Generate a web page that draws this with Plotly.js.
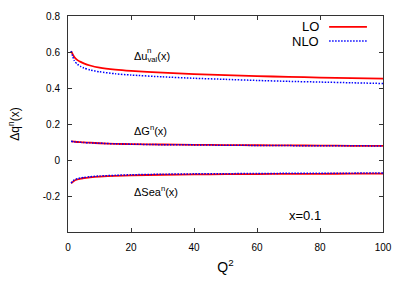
<!DOCTYPE html>
<html>
<head>
<meta charset="utf-8">
<script src="https://cdn.plot.ly/plotly-3.0.1.min.js"></script>
<style>html,body{margin:0;padding:0;background:#fff;}#chart{width:415px;height:291px;}</style>
</head>
<body>
<div id="chart"></div>
<script>
// Q^2 grid
const q2 = [1, 2, 3, 4, 5, 7, 10, 15, 20, 30, 40, 50, 60, 70, 80, 90, 100];

// Delta u_val^n(x)
const uvalLO  = [0.605, 0.572, 0.555, 0.545, 0.537, 0.525, 0.513, 0.502, 0.495, 0.485, 0.477, 0.471, 0.466, 0.462, 0.458, 0.455, 0.452];
const uvalNLO = [0.605, 0.552, 0.532, 0.520, 0.511, 0.500, 0.490, 0.479, 0.472, 0.462, 0.454, 0.448, 0.442, 0.437, 0.433, 0.429, 0.425];

// Delta G^n(x)
const gLO  = [0.104, 0.102, 0.100, 0.099, 0.098, 0.096, 0.093, 0.090, 0.088, 0.086, 0.084, 0.083, 0.082, 0.081, 0.080, 0.079, 0.078];
const gNLO = [0.104, 0.101, 0.100, 0.098, 0.097, 0.095, 0.093, 0.090, 0.088, 0.085, 0.084, 0.082, 0.081, 0.080, 0.079, 0.079, 0.078];

// Delta Sea^n(x)
const seaLO  = [-0.130, -0.115, -0.108, -0.104, -0.100, -0.096, -0.092, -0.088, -0.085, -0.082, -0.080, -0.079, -0.078, -0.077, -0.077, -0.076, -0.076];
const seaNLO = [-0.128, -0.111, -0.104, -0.100, -0.097, -0.093, -0.089, -0.085, -0.082, -0.079, -0.077, -0.076, -0.075, -0.074, -0.073, -0.073, -0.072];

const xTicks = [0, 20, 40, 60, 80, 100];
const yTicks = [-0.2, 0, 0.2, 0.4, 0.6, 0.8];
const yTickText = ["-0.2", "0", "0.2", "0.4", "0.6", "0.8"];
const seriesNames = ["LO", "NLO"];

const FONT = "Liberation Sans, Arial, Helvetica, sans-serif";
const loLine = {color: "#ff0000", width: 1.8};
const nloLine = {color: "#0000ff", width: 1.5, dash: "1.5px,1.5px"};

const traces = [
  {x: q2, y: uvalLO, line: loLine},
  {x: q2, y: gLO, line: loLine},
  {x: q2, y: seaLO, line: loLine},
  {x: q2, y: uvalNLO, line: nloLine},
  {x: q2, y: gNLO, line: nloLine},
  {x: q2, y: seaNLO, line: nloLine}
].map(t => Object.assign({type: "scatter", mode: "lines", showlegend: false, hoverinfo: "skip"}, t));
traces.forEach(t => { t.line = Object.assign({shape: "spline", smoothing: 0.6}, t.line); });

const axisCommon = {
  showline: true, linecolor: "#333", linewidth: 1, mirror: "ticks",
  ticks: "inside", ticklen: 4, tickcolor: "#333", tickwidth: 1,
  showgrid: false, zeroline: false,
  tickfont: {family: FONT, size: 10, color: "#000"}
};

const layout = {
  width: 415, height: 291,
  margin: {l: 68, r: 32, t: 16, b: 59},
  paper_bgcolor: "#fff", plot_bgcolor: "#fff",
  showlegend: false,
  xaxis: Object.assign({}, axisCommon, {
    range: [0, 100], tickvals: xTicks, ticktext: xTicks.map(String),
    ticklabelstandoff: 6,
    title: {text: "Q<sup>2</sup>", font: {family: FONT, size: 14, color: "#000"}, standoff: 10}
  }),
  yaxis: Object.assign({}, axisCommon, {
    range: [-0.4, 0.8], tickvals: yTicks, ticktext: yTickText,
    ticklabelstandoff: 5,
    title: {text: "Δq<sup>n</sup>(x)", font: {family: FONT, size: 12, color: "#000"}, standoff: 20}
  }),
  annotations: [
    {x: 20.3, y: 0.574, xref: "x", yref: "y", xanchor: "left", yanchor: "middle", showarrow: false,
     text: "Δu<sub>val</sub>(x)", font: {family: FONT, size: 11, color: "#000"}},
    {x: 20.3, y: 0.574, xref: "x", yref: "y", xanchor: "left", yanchor: "middle", showarrow: false,
     xshift: 13, yshift: 6, text: "n", font: {family: FONT, size: 8, color: "#000"}},
    {x: 20.3, y: 0.167, xref: "x", yref: "y", xanchor: "left", yanchor: "middle", showarrow: false,
     text: "ΔG<sup>n</sup>(x)", font: {family: FONT, size: 11, color: "#000"}},
    {x: 20.3, y: -0.172, xref: "x", yref: "y", xanchor: "left", yanchor: "middle", showarrow: false,
     text: "ΔSea<sup>n</sup>(x)", font: {family: FONT, size: 11, color: "#000"}},
    {x: 75.2, y: -0.306, xref: "x", yref: "y", xanchor: "center", yanchor: "middle", showarrow: false,
     text: "x=0.1", font: {family: FONT, size: 13, color: "#000"}},
    {x: 0.803, y: 0.950, xref: "paper", yref: "paper", xanchor: "right", yanchor: "middle", showarrow: false,
     text: seriesNames[0], font: {family: FONT, size: 13, color: "#000"}},
    {x: 0.803, y: 0.884, xref: "paper", yref: "paper", xanchor: "right", yanchor: "middle", showarrow: false,
     text: seriesNames[1], font: {family: FONT, size: 13, color: "#000"}}
  ],
  shapes: [
    {type: "line", xref: "paper", yref: "paper", x0: 0.829, x1: 0.949, y0: 0.950, y1: 0.950, line: loLine},
    {type: "line", xref: "paper", yref: "paper", x0: 0.829, x1: 0.949, y0: 0.884, y1: 0.884, line: nloLine}
  ]
};

Plotly.newPlot("chart", traces, layout, {staticPlot: true, displayModeBar: false});
</script>
</body>
</html>
